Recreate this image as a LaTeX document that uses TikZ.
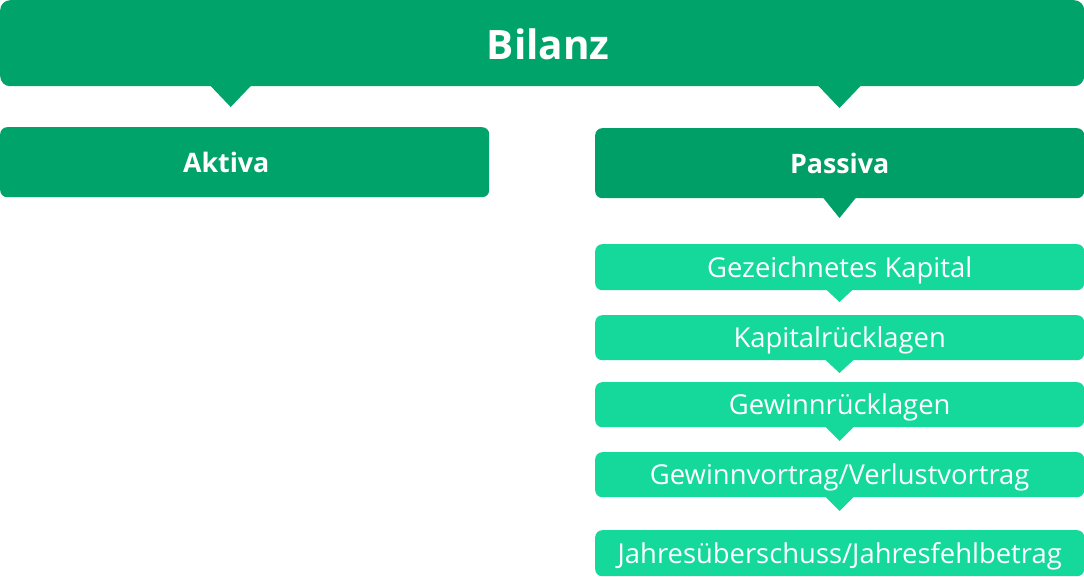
\documentclass[tikz,border=0pt]{standalone}
\usepackage{fontspec}
\setmainfont{Open Sans}
\definecolor{dgreen}{HTML}{00A36A}
\definecolor{pgreen}{HTML}{009F67}
\definecolor{lgreen}{HTML}{14D99B}
\begin{document}
\begin{tikzpicture}[x=1pt,y=-1pt,
  box/.style={rectangle, inner sep=0pt, anchor=north west, text=white, align=center, text depth=0pt},
  topbox/.style={box, fill=dgreen, rounded corners=10pt, minimum width=1084pt, minimum height=86pt,
    font=\bfseries\fontsize{40.5}{40.5}\selectfont, text height=33.5pt},
  midbox/.style={box, fill=#1, rounded corners=7pt, minimum width=489pt, minimum height=70pt,
    font=\bfseries\fontsize{26.8}{26.8}\selectfont, text height=20pt},
  litebox/.style={box, fill=lgreen, rounded corners=7pt, minimum width=489pt, minimum height=#1,
    font=\fontsize{27.4}{27.4}\selectfont, text height=19.6pt},
  bigptr/.style={fill=#1},
  smallptr/.style={fill=lgreen}
]
\useasboundingbox (0,0) rectangle (1084,576);
% boxes
\node[topbox] (bilanz) at (0,0) {\hspace*{12pt}Bilanz};
\node[midbox=dgreen] (aktiva) at (0,127) {Aktiva\hspace*{37pt}};
\node[midbox=pgreen] (passiva) at (595,128) {Passiva};
\node[litebox=46pt] (gez) at (595,244) {Gezeichnetes Kapital};
\node[litebox=45pt] (kap) at (595,315) {Kapitalrücklagen};
\node[litebox=45pt] (gew) at (595,382) {Gewinnrücklagen};
\node[litebox=45pt] (vor) at (595,452) {Gewinnvortrag/Verlustvortrag};
\node[litebox=46pt] (jah) at (595,530) {Jahresüberschuss/Jahresfehlbetrag};
% pointer positions
\coordinate (pl) at (230.7,85);
\coordinate (pr) at (839.5,85);
\coordinate (pp) at (839.5,197);
\coordinate (p1) at (839.5,288);
\coordinate (p2) at (839.5,359);
\coordinate (p3) at (839.5,426);
\coordinate (p4) at (839.5,496);
% pointers
\fill[bigptr=dgreen] (pl) ++(-21,0) -- ++(21,22) -- ++(21,-22) -- cycle;
\fill[bigptr=dgreen] (pr) ++(-22,0) -- ++(22,23) -- ++(22,-23) -- cycle;
\fill[bigptr=pgreen] (pp) ++(-17,0) -- ++(17,21) -- ++(17,-21) -- cycle;
\fill[smallptr] (p1) ++(-15,0) -- ++(15,14) -- ++(15,-14) -- cycle;
\fill[smallptr] (p2) ++(-15,0) -- ++(15,14) -- ++(15,-14) -- cycle;
\fill[smallptr] (p3) ++(-15,0) -- ++(15,15) -- ++(15,-15) -- cycle;
\fill[smallptr] (p4) ++(-15,0) -- ++(15,15) -- ++(15,-15) -- cycle;
\end{tikzpicture}
\end{document}
